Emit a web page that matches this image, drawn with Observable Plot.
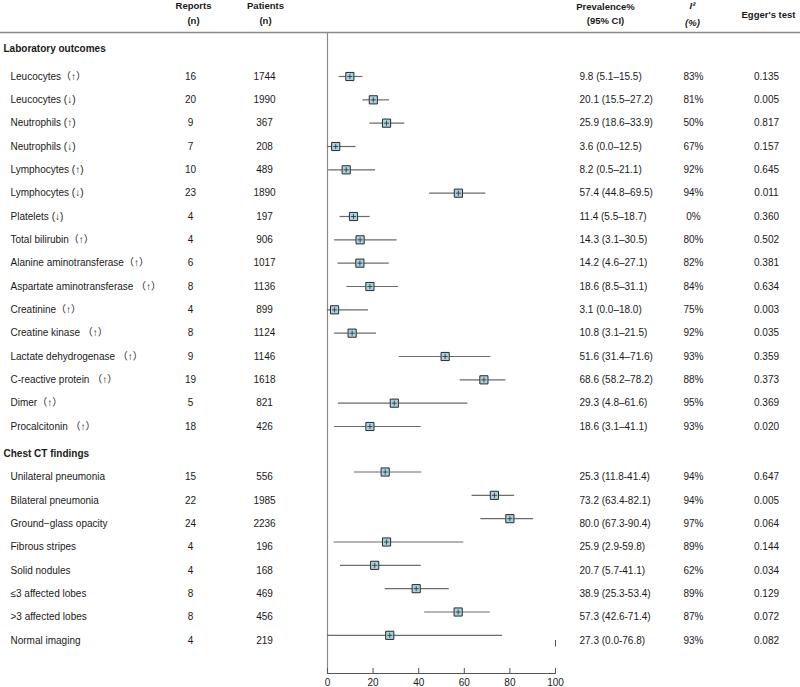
<!DOCTYPE html>
<html>
<head>
<meta charset="utf-8">
<script src="https://cdn.jsdelivr.net/npm/d3@7"></script>
<script src="https://cdn.jsdelivr.net/npm/@observablehq/plot@0.6"></script>
<style>
  html, body { margin: 0; padding: 0; background: #fff; }
</style>
</head>
<body>
<div id="chart"></div>
<script>
// ---------- data ----------
const sectionTitles = ["Laboratory outcomes", "Chest CT findings"];

const labOutcomes = [
  "Leucocytes（↑）", "Leucocytes (↓)", "Neutrophils (↑)", "Neutrophils (↓)",
  "Lymphocytes (↑)", "Lymphocytes (↓)", "Platelets (↓)", "Total bilirubin（↑）",
  "Alanine aminotransferase（↑）", "Aspartate aminotransferase （↑）", "Creatinine（↑）",
  "Creatine kinase （↑）", "Lactate dehydrogenase （↑）", "C-reactive protein （↑）",
  "Dimer（↑）", "Procalcitonin （↑）"
];
const labReports  = [16, 20, 9, 7, 10, 23, 4, 4, 6, 8, 4, 8, 9, 19, 5, 18];
const labPatients = [1744, 1990, 367, 208, 489, 1890, 197, 906, 1017, 1136, 899, 1124, 1146, 1618, 821, 426];
const labEst = [9.8, 20.1, 25.9, 3.6, 8.2, 57.4, 11.4, 14.3, 14.2, 18.6, 3.1, 10.8, 51.6, 68.6, 29.3, 18.6];
const labLo  = [5.1, 15.5, 18.6, 0.0, 0.5, 44.8, 5.5, 3.1, 4.6, 8.5, 0.0, 3.1, 31.4, 58.2, 4.8, 3.1];
const labHi  = [15.5, 27.2, 33.9, 12.5, 21.1, 69.5, 18.7, 30.5, 27.1, 31.1, 18.0, 21.5, 71.6, 78.2, 61.6, 41.1];
const labI2  = ["83%", "81%", "50%", "67%", "92%", "94%", "0%", "80%", "82%", "84%", "75%", "92%", "93%", "88%", "95%", "93%"];
const labEgger = ["0.135", "0.005", "0.817", "0.157", "0.645", "0.011", "0.360", "0.502", "0.381", "0.634", "0.003", "0.035", "0.359", "0.373", "0.369", "0.020"];

const ctOutcomes = [
  "Unilateral pneumonia", "Bilateral pneumonia", "Ground−glass opacity", "Fibrous stripes",
  "Solid nodules", "≤3 affected lobes", ">3 affected lobes", "Normal imaging"
];
const ctReports  = [15, 22, 24, 4, 4, 8, 8, 4];
const ctPatients = [556, 1985, 2236, 196, 168, 469, 456, 219];
const ctEst = [25.3, 73.2, 80.0, 25.9, 20.7, 38.9, 57.3, 27.3];
const ctLo  = [11.8, 63.4, 67.3, 2.9, 5.7, 25.3, 42.6, 0.0];
const ctHi  = [41.4, 82.1, 90.4, 59.8, 41.1, 53.4, 71.4, 76.8];
const ctI2  = ["94%", "94%", "97%", "89%", "62%", "89%", "87%", "93%"];
const ctEgger = ["0.647", "0.005", "0.064", "0.144", "0.034", "0.129", "0.072", "0.082"];

const headerReports  = ["Reports", "(n)"];
const headerPatients = ["Patients", "(n)"];
const headerPrev     = ["Prevalence%", "(95% CI)"];
const headerI2       = ["I²", "(%)"];
const headerEgger    = ["Egger's test"];

const xTicks = [0, 20, 40, 60, 80, 100];
const strayTick = [100];

// ---------- layout ----------
const W = 800, H = 687;
const mTop = 32, mBottom = 14, mLeft = 327, mRight = 245;
const labStart = 0, labHeaderPos = -1.18, ctHeaderPos = 16.16, ctStart = 16.95;
const colLabel = 10, colSection = 3, colReports = 190, colPatients = 264,
      colPrev = 579, colI2 = 693, colEgger = 766;
const hdrReports = 193, hdrPatients = 265, hdrPrev = 605, hdrI2 = 692, hdrEgger = 768;
const hdrLine1 = -3.03, hdrLine2 = -2.4, hdrMid = -2.63;

function buildRows(names, reps, pats, est, lo, hi, i2, egg, start, dash, textShift) {
  return names.map((name, i) => ({
    name, reports: String(reps[i]), patients: String(pats[i]), est: est[i], lo: lo[i], hi: hi[i],
    i2: i2[i], egger: egg[i], pos: start + i, shift: textShift,
    prev: `${est[i].toFixed(1)} (${lo[i].toFixed(1)}${dash}${hi[i].toFixed(1)})`
  }));
}
const labRows = buildRows(labOutcomes, labReports, labPatients, labEst, labLo, labHi, labI2, labEgger, labStart, "–", 0);
const ctRows  = buildRows(ctOutcomes, ctReports, ctPatients, ctEst, ctLo, ctHi, ctI2, ctEgger, ctStart, "-", 5);
const rows = labRows.concat(ctRows);
const sections = [
  {title: sectionTitles[0], pos: labHeaderPos},
  {title: sectionTitles[1], pos: ctHeaderPos}
];

const font = "'Liberation Sans', Arial, Helvetica, 'Noto Sans CJK SC', sans-serif";
const ink = "#1a1a1a";

function colText(field, dxAbs, anchor, data) {
  return [
    Plot.text(data.filter(d => d.shift === 0), {frameAnchor: "left", y: "pos", text: field, dx: dxAbs - mLeft, textAnchor: anchor, fill: ink, fontSize: 10}),
    Plot.text(data.filter(d => d.shift !== 0), {frameAnchor: "left", y: "pos", text: field, dx: dxAbs - mLeft, dy: 5, textAnchor: anchor, fill: ink, fontSize: 10})
  ];
}
function hdrText(lines, dxAbs, positions, extra = {}) {
  return Plot.text(lines.map((t, i) => ({t, pos: positions[i]})), {
    frameAnchor: "left", y: "pos", text: "t", dx: dxAbs - mLeft, textAnchor: "middle",
    fill: ink, fontSize: 9.5, fontWeight: "bold", ...extra
  });
}

const chart = Plot.plot({
  width: W, height: H,
  marginTop: mTop, marginBottom: mBottom, marginLeft: mLeft, marginRight: mRight,
  style: {fontFamily: font, fontSize: "10px", background: "#fff", color: ink},
  x: {domain: [0, 100], axis: null},
  y: {type: "linear", domain: [0, 15], range: [76, 426], axis: null},
  marks: [
    // frame lines
    Plot.frame({anchor: "top", insetLeft: -mLeft, insetRight: -mRight, stroke: "#8a8a8a", strokeWidth: 1.3}),
    Plot.frame({anchor: "left", stroke: "#8a8a8a", strokeWidth: 1.2}),
    Plot.frame({anchor: "bottom", stroke: "#555", strokeWidth: 1}),
    Plot.ruleX(xTicks, {x: d => d, insetTop: H - mTop - mBottom - 5, stroke: "#555"}),
    Plot.axisX({ticks: xTicks, tickSize: 0, tickPadding: 5, fontSize: 10, fill: ink, tickFormat: d3.format("d")}),
    Plot.ruleX(strayTick, {x: d => d, y1: ctStart + 7 + 0.22, y2: ctStart + 7 + 0.5, stroke: "#555", strokeWidth: 1}),
    // column headers
    hdrText(headerReports, hdrReports, [hdrLine1, hdrLine2]),
    hdrText(headerPatients, hdrPatients, [hdrLine1, hdrLine2]),
    hdrText(headerPrev, hdrPrev, [hdrLine1 + 0.07, hdrLine2 + 0.03]),
    hdrText(headerI2, hdrI2, [hdrLine1 + 0.02, hdrLine2 + 0.1], {fontStyle: "italic"}),
    hdrText(headerEgger, hdrEgger, [hdrMid]),
    // section titles
    Plot.text(sections, {frameAnchor: "left", y: "pos", text: "title", dx: colSection - mLeft, textAnchor: "start", fill: ink, fontSize: 10, fontWeight: "bold"}),
    // columns
    ...colText("name", colLabel, "start", rows),
    ...colText("reports", colReports, "middle", rows),
    ...colText("patients", colPatients, "middle", rows),
    ...colText("prev", colPrev, "start", rows),
    ...colText("i2", colI2, "middle", rows),
    ...colText("egger", colEgger, "middle", rows),
    // forest marks
    Plot.ruleY(rows, {y: "pos", x1: "lo", x2: "hi", stroke: "#6b6b6b", strokeWidth: 1.2}),
    Plot.dot(rows, {x: "est", y: "pos", symbol: "square", r: 4.6, fill: "#a8d3e3", stroke: "#2a2a2a", strokeWidth: 1}),
    Plot.dot(rows, {x: "est", y: "pos", symbol: "plus", r: 1.8, stroke: "#2a2a2a", strokeWidth: 0.8})
  ]
});
document.getElementById("chart").appendChild(chart);
</script>
</body>
</html>
